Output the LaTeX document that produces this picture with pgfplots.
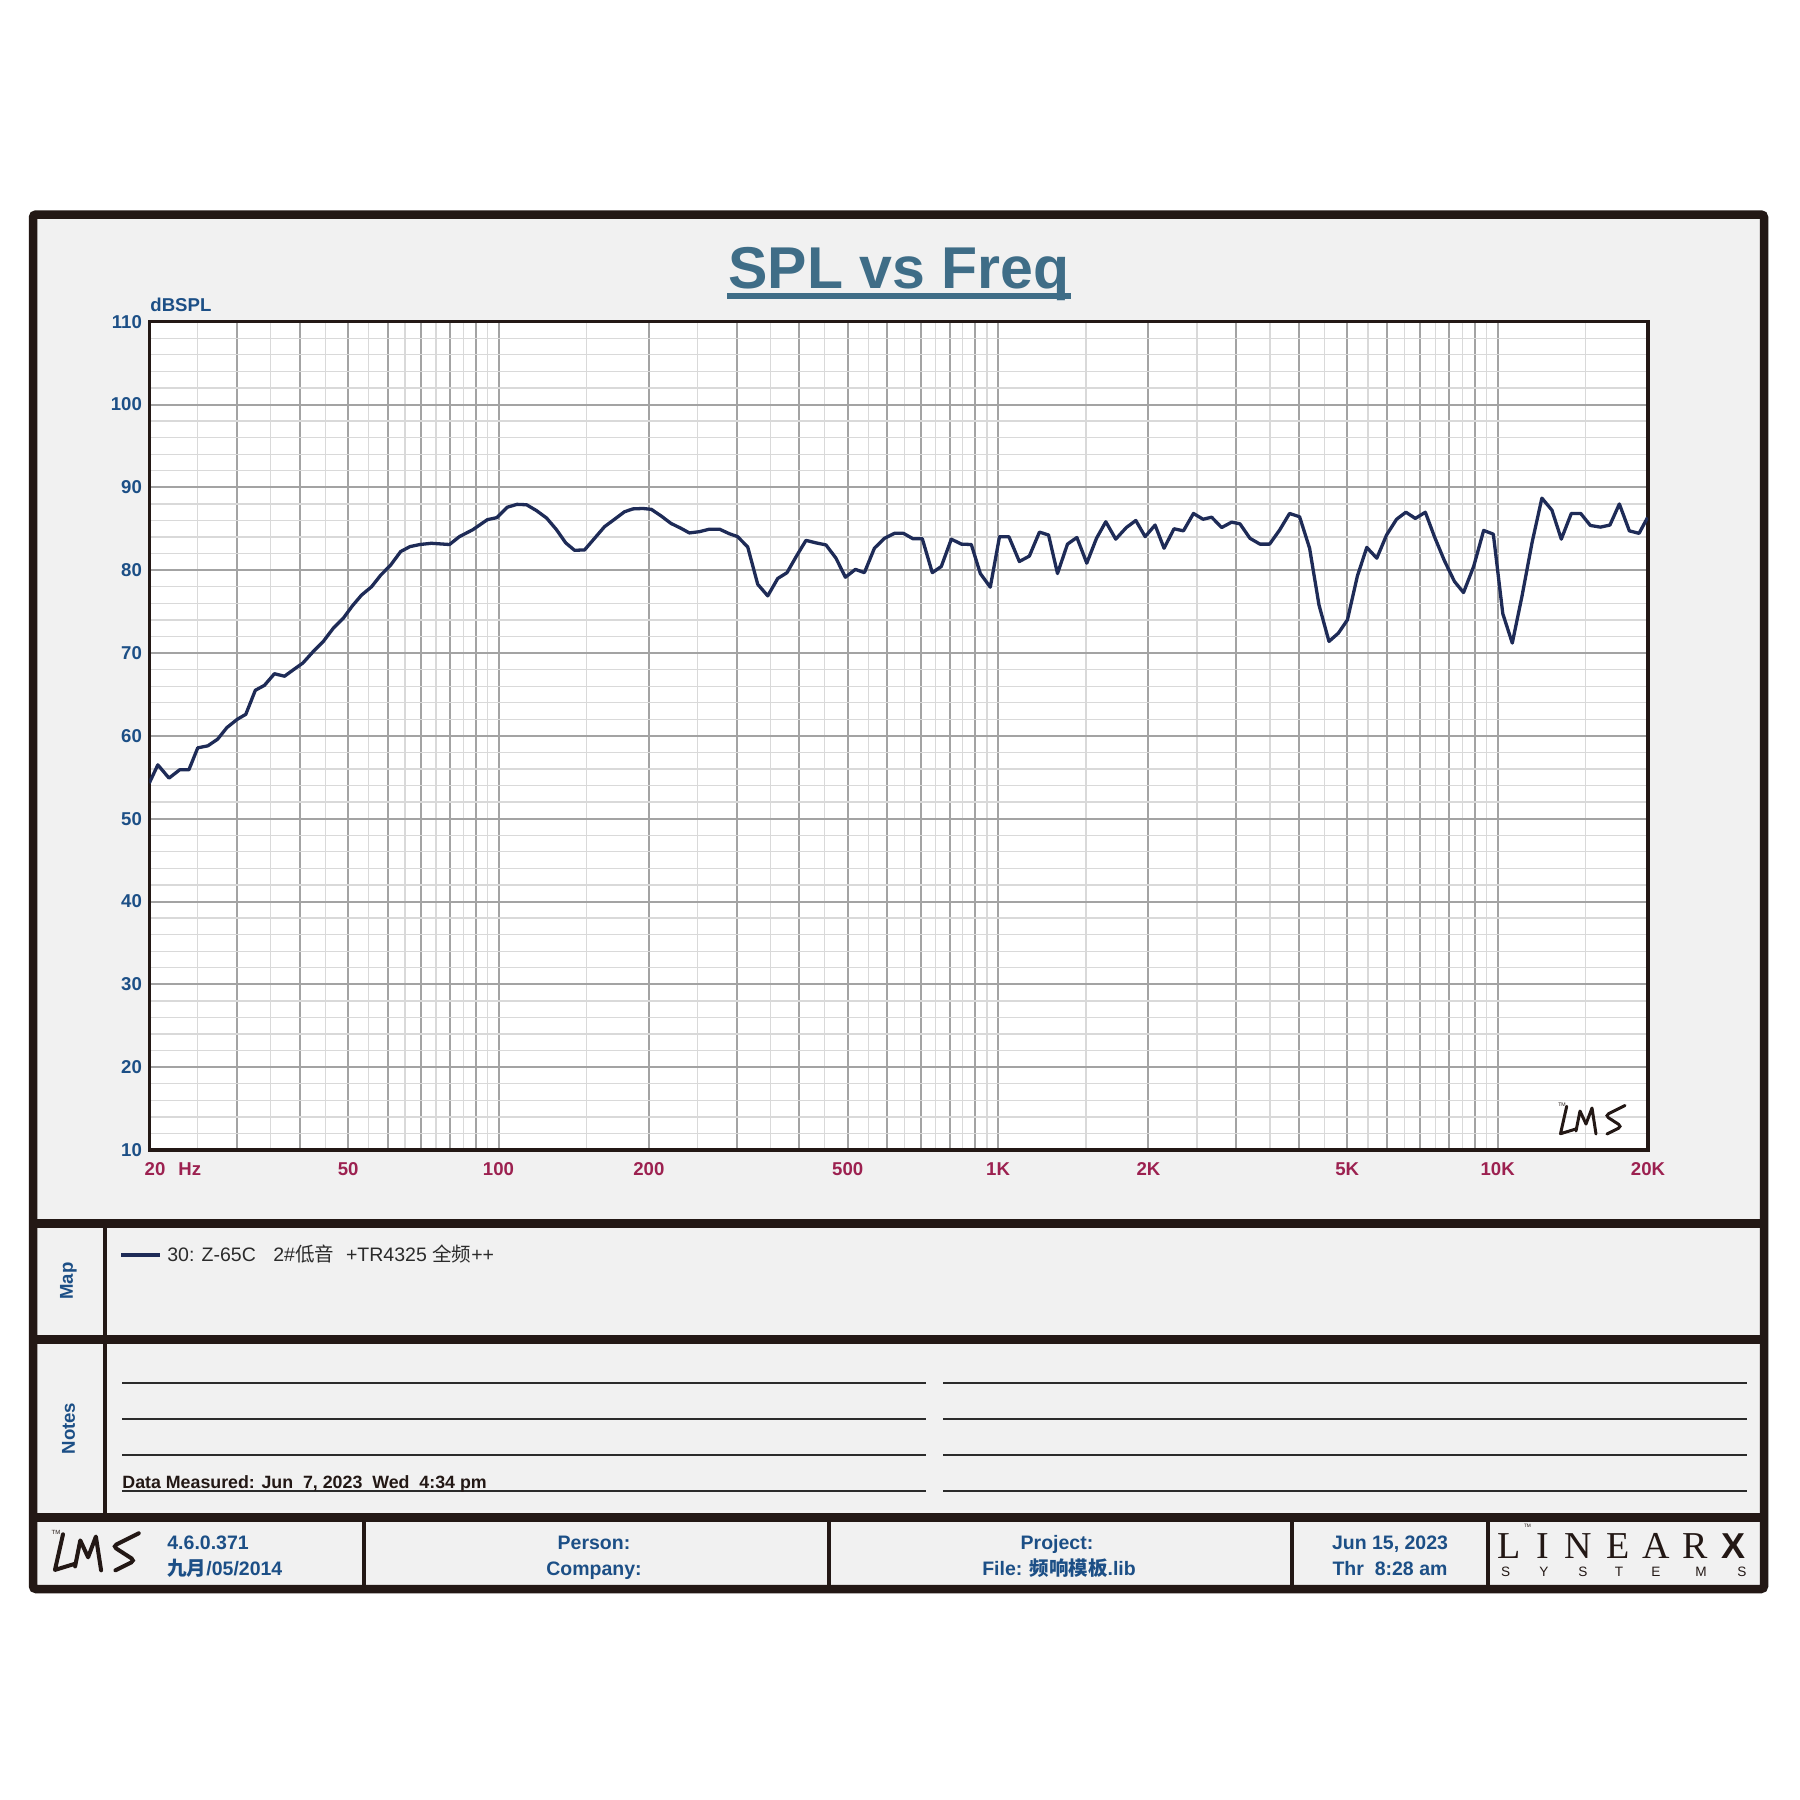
\documentclass[border=0pt]{standalone}
\usepackage{fontspec}
\setmainfont{Liberation Sans}
\newfontfamily\serifL{Liberation Serif}
\newfontfamily\cjk{Noto Sans CJK SC}
\usepackage{pgfplots}
\pgfplotsset{compat=1.18}
\definecolor{framecol}{HTML}{231815}
\definecolor{bgcol}{HTML}{F1F1F1}
\definecolor{titlecol}{HTML}{3F6D87}
\definecolor{ycol}{HTML}{1C4F86}
\definecolor{xcol}{HTML}{9C2150}
\definecolor{curvecol}{HTML}{1E2B57}
\definecolor{majgrid}{HTML}{A3A3A3}
\definecolor{mingrid}{HTML}{D9D9D9}
\definecolor{txtcol}{HTML}{2B2B2B}
\newcommand\fs[1]{\fontsize{#1}{#1}\selectfont}
\newcommand\lms[4]{%
 \begin{scope}[shift={(#1,#2)}, scale=#3]
   \draw[framecol, line width=#4, line cap=round, line join=round] (7.7,3.3) -- (1.5,30.7) -- (16.8,26);
   \draw[framecol, line width=#4, line cap=round, line join=round] (17,28) -- (21,8) -- (27,21) -- (33,5) -- (37,31);
   \draw[framecol, line width=#4, line cap=round, rounded corners=2pt] (66,2.5) -- (46,12.5) -- (63,23.5) -- (48,31);
 \end{scope}}

\begin{document}
\begin{tikzpicture}
\begin{scope}[x=0.5pt,y=-0.5pt]
 \fill[white] (0,0) rectangle (1800,1800);
 \fill[bgcol, rounded corners=1.5pt] (33,214.5) rectangle (1764,1589);
\end{scope}
\begin{axis}[
 at={(74.65pt,-575pt)}, anchor=south west,
 scale only axis, width=749.35pt, height=414.15pt,
 xmode=log, xmin=20, xmax=20000, ymin=10, ymax=110,
 xtick={20,30,40,50,60,70,80,90,100,200,300,400,500,600,700,800,900,1000,2000,3000,4000,5000,6000,7000,8000,9000,10000,20000},
 xticklabels={{\makebox[0pt][l]{\hspace{-2.3pt}20\hspace{6.5pt}Hz}},{},{},50,{},{},{},{},100,200,{},{},500,{},{},{},{},1K,2K,{},{},5K,{},{},{},{},10K,20K},
 minor xtick={25,35,45,55,65,75,85,95,150,250,350,450,550,650,750,850,950,1500,2500,3500,4500,5500,6500,7500,8500,9500,15000},
 ytick={10,20,30,40,50,60,70,80,90,100,110},
 yticklabels={10,20,30,40,50,60,70,80,90,100,110},
 minor y tick num=4,
 grid=both,
 major grid style={line width=1pt, color=majgrid},
 minor grid style={line width=0.65pt, color=mingrid},
 major tick length=0pt, minor tick length=0pt,
 axis line style={line width=1.6pt, color=framecol},
 axis background/.style={fill=white},
 xticklabel style={font=\fs{9.3}\bfseries, text=xcol, anchor=north, inner sep=0pt, yshift=-6pt},
 yticklabel style={font=\fs{9.3}\bfseries, text=ycol, anchor=east, inner sep=0pt, xshift=-3.5pt},
]
\addplot[curvecol, line width=1.65pt, line join=round] table {
f db
20.0 54.3
20.8 56.5
21.9 54.9
23.0 55.9
24.0 55.9
25.0 58.55
26.2 58.8
27.4 59.6
28.6 61.0
30.0 62.0
31.2 62.6
32.6 65.5
34.0 66.1
35.6 67.5
37.3 67.2
38.9 68.0
40.6 68.8
42.6 70.2
44.6 71.4
46.7 73.0
48.9 74.2
51.0 75.7
53.2 77.0
55.7 78.0
58.1 79.4
60.8 80.6
63.7 82.25
66.5 82.85
69.6 83.1
73.4 83.25
79.8 83.1
83.5 84.05
88.9 84.9
95.0 86.1
99.3 86.35
104.1 87.6
108.9 87.95
113.8 87.9
119.1 87.2
124.8 86.3
130.6 84.9
136.3 83.3
142.0 82.4
148.7 82.45
155.7 83.85
163.0 85.25
170.7 86.15
178.7 87.05
185.7 87.4
194.5 87.45
202.2 87.35
211.6 86.55
221.4 85.65
232 85.05
241 84.5
252.4 84.65
264.2 84.95
277 84.95
289.9 84.4
301.1 84.05
315.4 82.8
330.3 78.3
345.9 76.9
362.2 79.0
378 79.7
394 81.6
412.5 83.6
432 83.3
452.4 83.05
473.7 81.45
494.7 79.15
518.1 80.1
540 79.7
565.5 82.65
592.3 83.85
620.2 84.45
646.6 84.45
675.4 83.8
705.2 83.8
738.5 79.7
769.8 80.45
806.1 83.75
844.1 83.15
883.9 83.1
921.4 79.6
964.7 77.95
1006.6 84.05
1051 84.05
1103 81.05
1155 81.7
1210 84.6
1262 84.25
1315 79.6
1377 83.15
1438 83.95
1505 80.85
1574 83.85
1643 85.85
1720 83.75
1806 85.15
1887 86.0
1970 84.05
2062 85.45
2149 82.65
2250 85.0
2350 84.75
2461 86.85
2573 86.15
2676 86.4
2802 85.15
2934 85.8
3049 85.6
3193 83.85
3343 83.15
3496 83.15
3661 84.85
3833 86.85
4014 86.45
4203 82.65
4389 75.8
4596 71.4
4799 72.4
5003 74.0
5239 79.3
5471 82.75
5729 81.45
5993 84.25
6276 86.15
6553 87.0
6843 86.25
7166 87.0
7473 84.05
7825 81.15
8193 78.65
8544 77.3
8953 80.45
9375 84.8
9803 84.35
10240 74.75
10698 71.2
11186 76.85
11729 83.45
12262 88.7
12841 87.25
13409 83.75
14042 86.85
14666 86.85
15333 85.4
16057 85.2
16778 85.45
17524 88.0
18352 84.75
19192 84.45
19955 86.35
};
\end{axis}
\begin{scope}[x=0.5pt,y=-0.5pt]
 % outer frame and dividers
 \draw[framecol, line width=4.25pt, rounded corners=1.5pt] (33,214.5) rectangle (1764,1589);
 \draw[framecol, line width=4.3pt] (33,1223.5) -- (1764,1223.5);
 \draw[framecol, line width=4.3pt] (33,1339.5) -- (1764,1339.5);
 \draw[framecol, line width=4.3pt] (33,1517.5) -- (1764,1517.5);
 \draw[framecol, line width=2.2pt] (105,1226) -- (105,1515);
 \foreach \xx in {364,829,1292,1488} {\draw[framecol, line width=2.2pt] (\xx,1520) -- (\xx,1587);}
 % title
 \node[anchor=base, inner sep=0pt, text=titlecol, font=\fs{29.5}\bfseries] at (899,288.3) {SPL vs Freq};
 \fill[titlecol] (727,293) rectangle (1071,299);
 % y unit
 \node[anchor=base west, inner sep=0pt, text=ycol, font=\fs{9.3}\bfseries] at (150,311) {dBSPL};
 % LMS logo in plot
 \lms{1559}{1103}{1}{1.5pt}
 \node[inner sep=0pt, font=\fs{2.6}, text=framecol] at (1562,1105) {TM};
 % Map panel
 \node[rotate=90, inner sep=0pt, text=ycol, font=\fs{9.3}\bfseries] at (68.5,1281) {Map};
 \draw[curvecol, line width=2pt] (121,1255) -- (160,1255);
 \node[anchor=base west, inner sep=0pt, text=txtcol, font=\fs{9.75}] at (167,1261) {30: Z-65C\hspace{8.75pt}2\#{\cjk 低音}\hspace{6pt}+TR4325 {\cjk 全频}++};
 % Notes panel
 \node[rotate=90, inner sep=0pt, text=ycol, font=\fs{9.3}\bfseries] at (68.5,1428.5) {Notes};
 \foreach \yy in {1383,1419,1455,1491} {
   \draw[txtcol, line width=0.8pt] (122,\yy) -- (926,\yy);
   \draw[txtcol, line width=0.8pt] (943,\yy) -- (1747,\yy);
 }
 \node[anchor=base west, inner sep=0pt, text=framecol, font=\fs{8.9}\bfseries] at (122,1488) {Data Measured: Jun\ \ 7, 2023\ \ Wed\ \ 4:34 pm};
 % bottom bar
 \lms{53}{1530}{1.3}{2pt}
 \node[inner sep=0pt, font=\fs{3}, text=framecol] at (56,1532) {TM};
 \node[anchor=base west, inner sep=0pt, text=ycol, font=\fs{9.75}\bfseries] at (167,1549) {4.6.0.371};
 \node[anchor=base west, inner sep=0pt, text=ycol, font=\fs{9.75}\bfseries] at (167,1575) {{\cjk\bfseries 九月}/05/2014};
 \node[anchor=base, inner sep=0pt, text=ycol, font=\fs{9.75}\bfseries] at (594,1549) {Person:};
 \node[anchor=base, inner sep=0pt, text=ycol, font=\fs{9.75}\bfseries] at (594,1575) {Company:};
 \node[anchor=base, inner sep=0pt, text=ycol, font=\fs{9.75}\bfseries] at (1057,1549) {Project:};
 \node[anchor=base, inner sep=0pt, text=ycol, font=\fs{9.75}\bfseries] at (1059,1575) {File: {\cjk\bfseries 频响模板}.lib};
 \node[anchor=base, inner sep=0pt, text=ycol, font=\fs{9.75}\bfseries] at (1390,1549) {Jun 15, 2023};
 \node[anchor=base, inner sep=0pt, text=ycol, font=\fs{9.75}\bfseries] at (1390,1575) {Thr\ \ 8:28 am};
 % LINEAR X logo
 \foreach \xx/\ll in {1509/L,1543/I,1578/N,1618/E,1656/A,1695/R} {
   \node[anchor=base, inner sep=0pt, text=framecol, font=\fs{19}\serifL] at (\xx,1558) {\ll};
 }
 \node[anchor=base, inner sep=0pt, text=framecol, font=\fs{18}\bfseries] at (1733,1558) {X};
 \node[inner sep=0pt, font=\fs{2.4}, text=framecol] at (1527.5,1526) {TM};
 \foreach \xx/\ll in {1505.6/S,1544/Y,1583/S,1619/T,1656/E,1701/M,1742/S} {
   \node[anchor=base, inner sep=0pt, text=framecol, font=\fs{6.8}] at (\xx,1576) {\ll};
 }
\end{scope}
\end{tikzpicture}
\end{document}
